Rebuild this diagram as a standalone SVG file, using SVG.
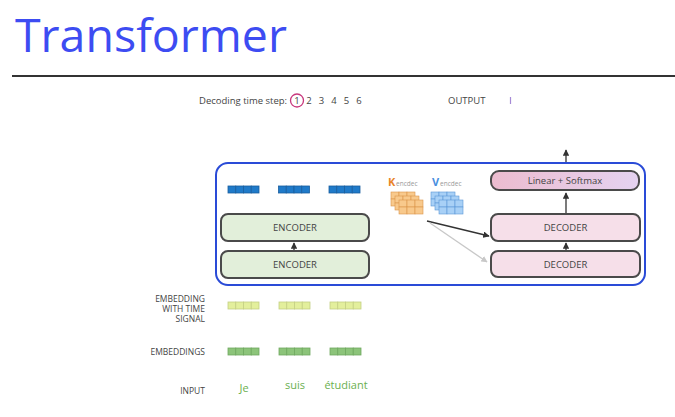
<svg xmlns="http://www.w3.org/2000/svg" width="675" height="417" viewBox="0 0 675 417">
<defs>
<style>
text{font-family:"Open Sans","Noto Sans","DejaVu Sans",sans-serif}
.lbl{font-size:8.5px;fill:#444;text-anchor:end}
.box{stroke:#4a4a4a;stroke-width:2}
.enc{fill:#e2efda}
.dec{fill:#f6dfe9}
.bt{font-size:9.5px;fill:#444;text-anchor:middle}
.vb{fill:#1f7ac9;stroke:#1a5e9e;stroke-width:0.8}
.vy{fill:#e3ef9c;stroke:#c4cf84;stroke-width:0.8}
.vg{fill:#8cc47a;stroke:#6fa85f;stroke-width:0.8}
.word{font-size:11px;fill:#6bb04f;text-anchor:middle}
.arr{stroke:#333;stroke-width:1.3;fill:none}
.ko{fill:#f8c98c;stroke:#d9954a;stroke-width:0.6}
.vv{fill:#a8d0f6;stroke:#5a96d6;stroke-width:0.6}
</style>
<marker id="ah" viewBox="0 0 10 10" refX="9" refY="5" markerWidth="5" markerHeight="5" orient="auto-start-reverse"><path d="M0,0L10,5L0,10z" fill="#333"/></marker>
<marker id="ahg" viewBox="0 0 10 10" refX="9" refY="5" markerWidth="5" markerHeight="5" orient="auto-start-reverse"><path d="M0,0L10,5L0,10z" fill="#c8c8c8"/></marker>
<linearGradient id="ls" x1="0" x2="1" y1="0" y2="0"><stop offset="0" stop-color="#ecbccf"/><stop offset="1" stop-color="#e4d2f0"/></linearGradient>
<g id="vec4"><rect x="0" y="0" width="7.75" height="7"/><rect x="7.75" y="0" width="7.75" height="7"/><rect x="15.5" y="0" width="7.75" height="7"/><rect x="23.25" y="0" width="7.75" height="7"/></g>
<g id="grid"><rect x="0" y="0" width="8" height="7"/><rect x="8" y="0" width="8" height="7"/><rect x="16" y="0" width="8" height="7"/><rect x="0" y="7" width="8" height="7"/><rect x="8" y="7" width="8" height="7"/><rect x="16" y="7" width="8" height="7"/></g>
</defs>
<rect width="675" height="417" fill="#fff"/>
<g id="title"><text x="15" y="52" font-size="46.5" fill="#3d4cf2" font-family="'Open Sans',sans-serif">Transformer</text>
<line x1="12" y1="76" x2="675" y2="76" stroke="#333" stroke-width="2"/></g>
<g id="timestep">
<text x="199" y="104" font-size="9.5" fill="#444">Decoding time step:</text>
<circle cx="297" cy="100.5" r="6.5" fill="none" stroke="#c8377c" stroke-width="1.3"/>
<text x="297" y="104" font-size="9.5" fill="#444" text-anchor="middle">1</text>
<text x="309" y="104" font-size="9.5" fill="#444" text-anchor="middle">2</text>
<text x="321.5" y="104" font-size="9.5" fill="#444" text-anchor="middle">3</text>
<text x="334" y="104" font-size="9.5" fill="#444" text-anchor="middle">4</text>
<text x="346.5" y="104" font-size="9.5" fill="#444" text-anchor="middle">5</text>
<text x="359" y="104" font-size="9.5" fill="#444" text-anchor="middle">6</text>
</g>
<g id="output"><text x="448" y="104" font-size="9.5" fill="#444">OUTPUT</text>
<line x1="510.5" y1="97" x2="510.5" y2="104" stroke="#a68ad6" stroke-width="1.2"/></g>
<g id="frame"><rect x="216" y="163" width="429" height="122" rx="12" fill="none" stroke="#2a4bd7" stroke-width="2"/></g>
<g id="enc-out"><use href="#vec4" x="228" y="186" class="vb"/><use href="#vec4" x="278.5" y="186" class="vb"/><use href="#vec4" x="329" y="186" class="vb"/></g>
<g id="encoder2"><rect x="221" y="214" width="148" height="27" rx="7" class="box enc"/><text x="295" y="231" class="bt">ENCODER</text></g>
<g id="encoder1"><rect x="221" y="251" width="148" height="27" rx="7" class="box enc"/><text x="295" y="268" class="bt">ENCODER</text></g>
<g id="kencdec"><text x="388" y="186" font-size="11" fill="#e8862a" font-weight="bold">K</text><text x="396" y="186" font-size="6.5" fill="#999">encdec</text>
<use href="#grid" x="391" y="192" class="ko"/><use href="#grid" x="395" y="196" class="ko"/><use href="#grid" x="399" y="200" class="ko"/></g>
<g id="vencdec"><text x="432" y="186" font-size="11" fill="#4a8fe0" font-weight="bold">V</text><text x="440" y="186" font-size="6.5" fill="#999">encdec</text>
<use href="#grid" x="431" y="192" class="vv"/><use href="#grid" x="435" y="196" class="vv"/><use href="#grid" x="439" y="200" class="vv"/></g>
<g id="softmax"><rect x="491" y="171" width="148" height="19" rx="8" fill="url(#ls)" class="box"/><text x="565" y="184" class="bt">Linear + Softmax</text></g>
<g id="decoder2"><rect x="491" y="214" width="149" height="27" rx="7" class="box dec"/><text x="565.5" y="231" class="bt">DECODER</text></g>
<g id="decoder1"><rect x="491" y="251" width="149" height="26" rx="7" class="box dec"/><text x="565.5" y="268" class="bt">DECODER</text></g>
<g id="connectors">
<line x1="294" y1="250" x2="294" y2="243" class="arr" marker-end="url(#ah)"/>
<line x1="566" y1="250" x2="566" y2="243" class="arr" marker-end="url(#ah)"/>
<line x1="566" y1="213" x2="566" y2="193" class="arr" marker-end="url(#ah)"/>
<line x1="566" y1="162" x2="566" y2="150" class="arr" marker-end="url(#ah)"/>
<line x1="427" y1="221" x2="489" y2="236" class="arr" marker-end="url(#ah)"/>
<line x1="430" y1="223" x2="487" y2="262" stroke="#c8c8c8" stroke-width="1.3" marker-end="url(#ahg)"/>
</g>
<g id="labels">
<text x="205" y="302" class="lbl">EMBEDDING</text>
<text x="205" y="312" class="lbl">WITH TIME</text>
<text x="205" y="322" class="lbl">SIGNAL</text>
<text x="205" y="355" class="lbl">EMBEDDINGS</text>
<text x="205" y="394" class="lbl">INPUT</text>
</g>
<g id="time-signal"><use href="#vec4" x="228" y="302" class="vy"/><use href="#vec4" x="279" y="302" class="vy"/><use href="#vec4" x="330" y="302" class="vy"/></g>
<g id="embeddings"><use href="#vec4" x="228" y="348" class="vg"/><use href="#vec4" x="279" y="348" class="vg"/><use href="#vec4" x="330" y="348" class="vg"/></g>
<g id="input"><text x="244" y="392" class="word">Je</text><text x="295" y="389" class="word">suis</text><text x="346" y="389" class="word">étudiant</text></g>
</svg>
